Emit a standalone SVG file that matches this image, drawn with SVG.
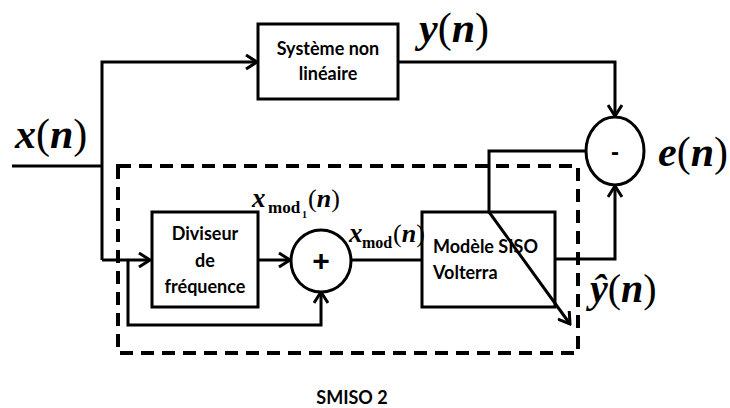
<svg xmlns="http://www.w3.org/2000/svg" width="730" height="408" viewBox="0 0 730 408">
<style>
.ln{fill:none;stroke:#000;stroke-width:3}
.box{fill:#fff;stroke:#000;stroke-width:3}
.lbl{font-family:Lato,"Open Sans","Liberation Sans",sans-serif;font-weight:bold;font-size:18px;fill:#000}
.m{font-family:"Liberation Serif","Times New Roman",serif;font-weight:bold;font-style:italic;fill:#000}
.r{font-style:normal;font-weight:normal}
.sub{font-family:"Liberation Serif","Times New Roman",serif;font-weight:bold;fill:#000}
</style>
<defs>
<marker id="arr" viewBox="0 0 14 16" refX="12" refY="8" markerWidth="14" markerHeight="16" markerUnits="userSpaceOnUse" orient="auto">
<path d="M1,1 L12,8 L1,15" fill="none" stroke="#000" stroke-width="3"/>
</marker>
</defs>
<rect x="0" y="0" width="730" height="408" fill="#fff"/>
<g id="dashed-box">
<rect x="118" y="166" width="460" height="187" fill="none" stroke="#000" stroke-width="4" stroke-dasharray="13 8"/>
</g>
<g id="connectors">
<path class="ln" d="M12,166 H102"/>
<path class="ln" d="M102,260 V62 H257" marker-end="url(#arr)"/>
<path class="ln" d="M102,260 H150" marker-end="url(#arr)"/>
<path class="ln" d="M128,260 V325 H321 V292" marker-end="url(#arr)"/>
<path class="ln" d="M258,260 H290" marker-end="url(#arr)"/>
<path class="ln" d="M351,260 H422"/>
<path class="ln" d="M398,62 H615 V116" marker-end="url(#arr)"/>
<path class="ln" d="M555,259 H615 V186" marker-end="url(#arr)"/>
<path class="ln" d="M586,151 H489 V212 L570,324" marker-end="url(#arr)"/>
</g>
<g id="systeme">
<rect class="box" x="258" y="24" width="140" height="75"/>
<text class="lbl" x="328" y="55" text-anchor="middle">Système non</text>
<text class="lbl" x="328" y="80" text-anchor="middle">linéaire</text>
</g>
<g id="diviseur">
<rect class="box" x="152" y="212" width="106" height="95"/>
<text class="lbl" x="205" y="240" text-anchor="middle">Diviseur</text>
<text class="lbl" x="205" y="267" text-anchor="middle">de</text>
<text class="lbl" x="205" y="293" text-anchor="middle">fréquence</text>
</g>
<g id="volterra">
<rect x="422" y="212" width="133" height="95" fill="none" stroke="#000" stroke-width="3"/>
<text class="lbl" x="433" y="253">Modèle SISO</text>
<text class="lbl" x="433" y="279">Volterra</text>
</g>
<g id="plus">
<ellipse class="box" cx="321" cy="261" rx="30" ry="31"/>
<text x="321" y="271" text-anchor="middle" font-family="'Liberation Sans',Arial,sans-serif" font-weight="bold" font-size="30">+</text>
</g>
<g id="minus">
<ellipse class="box" cx="615" cy="151" rx="29" ry="34"/>
<text x="615" y="160" text-anchor="middle" font-family="'Liberation Sans',Arial,sans-serif" font-weight="bold" font-size="24">-</text>
</g>
<g id="labels">
<text class="m" x="15" y="148" font-size="42">x<tspan class="r">(</tspan>n<tspan class="r">)</tspan></text>
<text class="m" x="419" y="42" font-size="42">y<tspan class="r">(</tspan>n<tspan class="r">)</tspan></text>
<text class="m" x="658" y="166" font-size="42">e<tspan class="r">(</tspan>n<tspan class="r">)</tspan></text>
<text class="m" x="590" y="302" font-size="40">ŷ<tspan class="r">(</tspan>n<tspan class="r">)</tspan></text>
<text class="m" x="252" y="207" font-size="27" font-weight="normal">x</text>
<text class="sub" x="268" y="213" font-size="17">mod</text>
<text class="sub" x="302" y="218" font-size="10">1</text>
<text class="m" x="308" y="207" font-size="26"><tspan class="r">(</tspan>n<tspan class="r">)</tspan></text>
<text class="m" x="349" y="242" font-size="27" font-weight="normal">x</text>
<text class="sub" x="362" y="248" font-size="16">mod</text>
<text class="m" x="393" y="242" font-size="26"><tspan class="r">(</tspan>n<tspan class="r">)</tspan></text>
<text class="lbl" x="352" y="404" text-anchor="middle" font-size="24">SMISO 2</text>
</g>
</svg>
